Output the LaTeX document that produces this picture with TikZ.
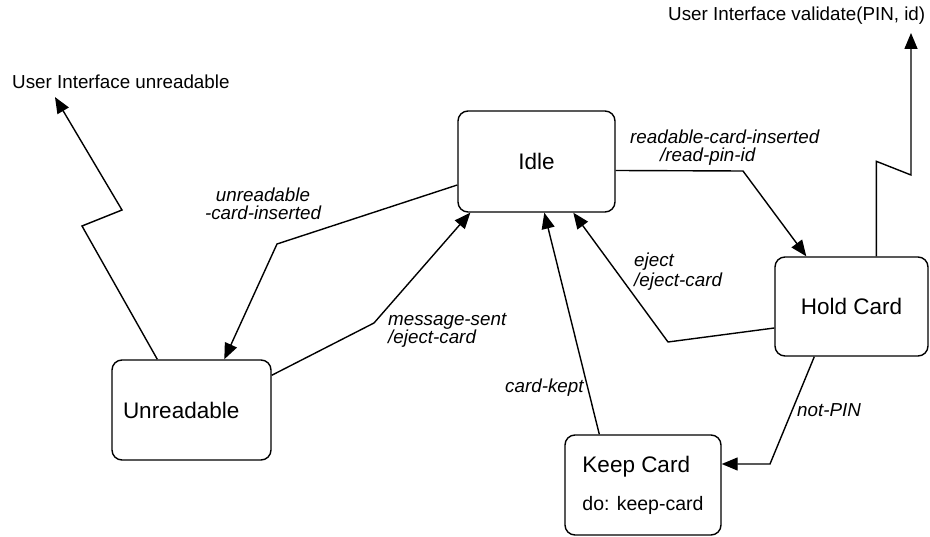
\documentclass[tikz,border=0pt]{standalone}
\usepackage{fontspec}
\setmainfont{Liberation Sans}
\usetikzlibrary{arrows.meta}
\usetikzlibrary{calc}
\tikzset{
  statebox/.style={draw, line width=1.4pt, rounded corners=10pt, font=\fontsize{22.5}{24}\selectfont},
  flow/.style={line width=1.4pt, -{Triangle[length=16pt,width=13pt]}},
  tlbl/.style={font=\fontsize{18.8}{18}\selectfont\itshape, inner sep=0pt, align=left},
  iface/.style={font=\fontsize{18.8}{20}\selectfont, inner sep=0pt}
}
\newcommand{\tlabel}[4]{\node[tlbl, anchor=west] (#1) at (#2,#3) {#4};}

\begin{document}
\begin{tikzpicture}[x=1pt,y=-1pt]
        \useasboundingbox (0,0) rectangle (930,537);
        %nodes
        \node[statebox, minimum width=157pt, minimum height=101pt] (idle) at (536.5,161.5) {Idle};
        \node[statebox, minimum width=153pt, minimum height=99pt] (hold) at (851.5,306.5) {Hold Card};
        \node[statebox, minimum width=159pt, minimum height=100pt, text width=137pt, inner xsep=11pt, align=left] (unread) at (191.5,410) {Unreadable};
        \node[statebox, minimum width=156pt, minimum height=100pt, align=left] (keep) at (643,485) {Keep Card\\[14pt]{\fontsize{19.5}{20}\selectfont do: keep-card}};
        \node[iface, anchor=west] (uiunread) at (12,82) {User Interface unreadable};
        \node[iface, anchor=west] (uivalid) at (668,16) {User Interface validate(PIN, id)};
        %edges
        \draw[flow] ($(unread.north west)+(46,0)$) -- (82,226) -- (122,210) -- ($(uiunread.south west)+(43,8)$);
        \draw[flow] ($(idle.west)+(0,23.5)$) -- (277,244) -- ($(unread.north west)+(113,0)$);
        \draw[flow] ($(unread.north east)+(0,16)$) -- (374,323) -- ($(idle.south west)+(13,0)$);
        \draw[flow] ($(keep.north west)+(35,0)$) -- ($(idle.south west)+(87,0)$);
        \draw[flow] ($(hold.west)+(0,21.5)$) -- (668,342) -- ($(idle.south west)+(116,0)$);
        \draw[flow] ($(idle.east)+(0,9)$) -- (743,171) -- ($(hold.north west)+(32,0)$);
        \draw[flow] ($(hold.north west)+(102,0)$) -- ++(0,-95) -- (911,175) -- ($(uivalid.south west)+(243,8)$);
        \draw[flow] ($(hold.south west)+(40,0)$) -- (770,464) -- ($(keep.east)+(0,-21)$);
        %labels
        \node[tlbl, align=center] (lunread) at (263,204) {unreadable\\-card-inserted};
        \tlabel{lread}{630}{148}{readable-card-inserted\\\hspace*{30pt}/read-pin-id}
        \tlabel{leject}{634}{272}{eject\\[2pt]/eject-card}
        \tlabel{lmsg}{388}{330}{message-sent\\/eject-card}
        \tlabel{lkept}{505}{388}{card-kept}
        \tlabel{lnotpin}{797}{410}{not-PIN}
\end{tikzpicture}
\end{document}
